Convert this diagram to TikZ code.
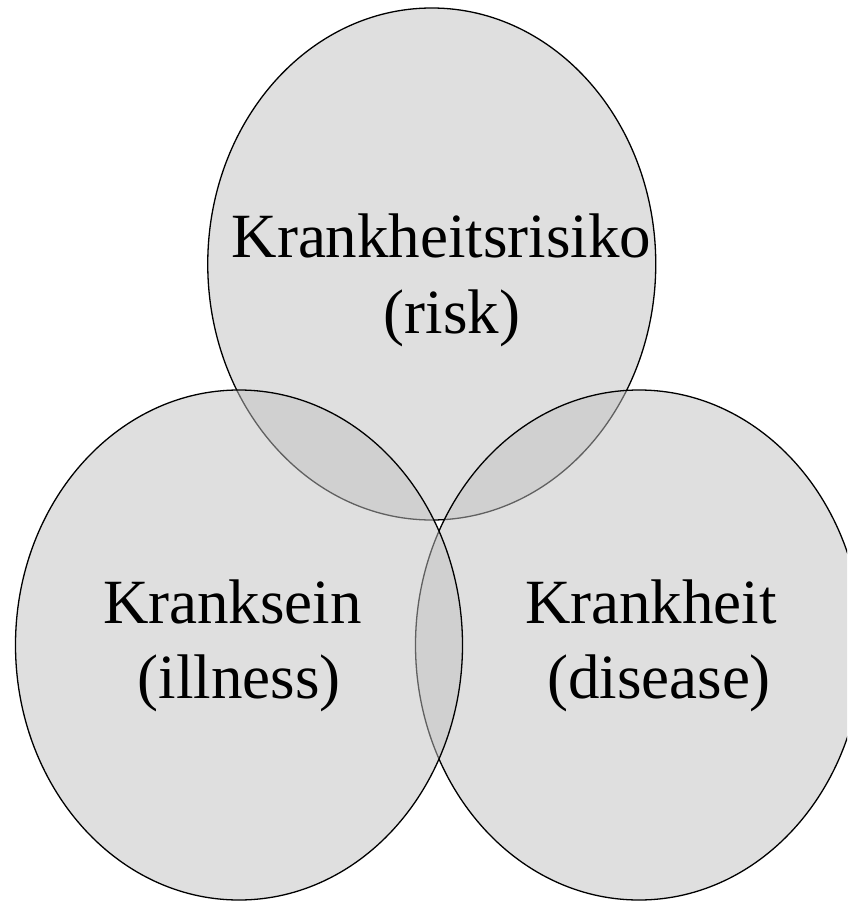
\documentclass[tikz,border=0pt]{standalone}
\usepackage{fontspec}
\setmainfont{Liberation Serif}
\definecolor{vennfill}{RGB}{192,192,192}
\begin{document}
\begin{tikzpicture}[x=1pt,y=-1pt,
  vennset/.style={draw=black,line width=1.3pt,fill=vennfill,fill opacity=0.5,draw opacity=1},
  vennlabel/.style={anchor=base,inner sep=0pt,font=\fontsize{63}{75.6}\selectfont,text=black}]
\useasboundingbox (0,0) rectangle (847,901);
\clip (0,0) rectangle (847,901);
\path[vennset] (431.75,264) ellipse [x radius=224, y radius=256];
\path[vennset] (639,645) ellipse [x radius=223.5, y radius=255];
\path[vennset] (239,645) ellipse [x radius=223.5, y radius=255];
\node[vennlabel] (risk1) at (441.5,258) {Krankheitsrisiko};
\node[vennlabel] (risk2) at (452,333) {(risk)};
\node[vennlabel] (ill1) at (232.5,623) {Kranksein};
\node[vennlabel] (ill2) at (239,698) {(illness)};
\node[vennlabel] (dis1) at (651,623) {Krankheit};
\node[vennlabel] (dis2) at (659,698) {(disease)};
\end{tikzpicture}
\end{document}
